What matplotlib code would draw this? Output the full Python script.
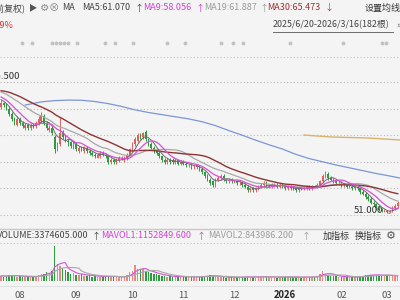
import numpy as np
import pandas as pd
import matplotlib
matplotlib.use('Agg')
import matplotlib.pyplot as plt
from matplotlib.lines import Line2D

plt.rcParams['font.family'] = ['Noto Sans CJK SC', 'DejaVu Sans']

# bars before the visible window (only feed the moving averages)
pre_close = [117, 118, 119, 118, 120, 121, 122, 121, 123, 124,
             123, 125, 124, 123, 124, 122, 123, 121, 122, 120,
             121, 119, 120, 118, 119, 117, 116, 117, 115, 114]
pre_vol = [120, 110, 130, 100, 115, 125, 140, 110, 105, 120,
           100, 130, 115, 110, 120, 105, 100, 110, 95, 100,
           105, 110, 95, 100, 90, 105, 100, 110, 95, 100]

# visible bars
open_ = [111, 113, 112, 110, 107, 104, 101, 104, 102, 99,
         101, 99, 101, 100, 102, 103, 106, 102, 98, 99,
         94, 87, 90, 97, 94, 92, 91, 88, 90, 86,
         88, 86, 88, 86, 85, 84, 82, 83, 85, 84,
         83, 80, 81, 80, 81, 82, 81, 82, 84, 87,
         90, 92, 95, 94, 97, 93, 90, 88, 86, 85,
         83, 81, 80, 81, 81, 80, 81, 79, 80, 79,
         78, 78, 77, 77, 78, 76, 74, 72, 70, 69,
         67, 70, 71, 72, 70, 69, 70, 69, 69, 68,
         68, 67, 66, 64, 65, 64, 65, 66, 67, 68,
         66, 66, 67, 67, 66, 67, 66, 65, 66, 65.5,
         65, 64, 65.5, 65, 65, 66, 65, 66.5, 66, 67,
         69, 72, 73, 71, 70, 69, 68, 68, 67, 67,
         66, 66, 65, 66, 65, 63, 62, 60, 59, 57,
         56, 54, 53, 52, 52.5, 51.5, 52, 54, 55]
high = [115, 114, 113, 111, 108, 105, 106, 105, 103, 102,
        102, 102, 102, 103, 106, 108, 107, 103, 101, 100,
        95, 91, 105, 98, 95, 93, 92, 92, 91, 89,
        89, 89, 89, 87, 86, 85, 85, 86, 86, 85,
        84, 82, 82, 82, 83, 83, 83, 85, 88, 91,
        94, 96, 96, 97, 98, 93, 91, 89, 87, 86,
        83, 82, 82, 82, 82, 82, 81, 81, 81, 80,
        79, 79, 78, 79, 78, 77, 75, 73, 71, 70,
        71, 72, 73, 73, 71, 71, 71, 70, 70, 69,
        69, 68, 67, 66, 66, 66, 67, 68, 69, 69,
        67, 68, 68, 68, 68, 68, 67, 67, 67, 66,
        66, 66, 66, 66, 67, 67, 67, 67, 68, 70,
        73, 75, 74, 72, 71, 70, 69, 69, 68, 68,
        67, 67, 67, 67, 66, 64, 63, 61, 60, 58,
        57, 55, 54, 53.5, 53, 53, 55, 56, 58]
low = [110, 111, 109, 106, 103, 101, 100, 101, 99, 98,
       98, 98, 99, 99, 101, 102, 101, 98, 97, 95,
       85, 86, 89, 93, 91, 89, 88, 87, 86, 85,
       86, 85, 85, 84, 83, 82, 82, 82, 83, 82,
       79, 79, 79, 79, 80, 81, 80, 81, 83, 86,
       89, 91, 93, 93, 92, 89, 87, 85, 84, 82,
       80, 79, 79, 79, 79, 79, 78, 78, 78, 77,
       77, 76, 76, 76, 75, 73, 71, 69, 67, 66,
       66, 69, 70, 69, 68, 68, 68, 68, 67, 67,
       66, 65, 63, 63, 63, 63, 64, 65, 66, 65,
       65, 65, 66, 65, 65, 65, 64, 64, 64, 64,
       63, 63, 64, 64, 64, 64, 64, 65, 65, 66,
       68, 71, 70, 69, 68, 67, 67, 66, 66, 65,
       65, 64, 64, 64, 62, 61, 59, 58, 56, 55,
       53, 52, 51.5, 51.5, 51.2, 51.0, 51.5, 53, 54]
close = [113, 112, 110, 107, 104, 102, 104, 102, 100, 101,
         99, 101, 100, 102, 104, 106, 102, 99, 99, 96,
         87, 90, 96, 94, 92, 91, 89, 90, 87, 88,
         87, 88, 86, 85, 84, 83, 84, 85, 84, 83,
         80, 81, 80, 81, 82, 82, 82, 84, 87, 90,
         93, 95, 94, 96, 93, 90, 88, 86, 85, 83,
         81, 80, 81, 80, 80, 81, 79, 80, 79, 78,
         78, 77, 77, 78, 76, 74, 72, 70, 68, 67,
         70, 71, 72, 70, 69, 70, 69, 69, 68, 68,
         67, 66, 64, 65, 64, 65, 66, 67, 68, 66,
         66, 67, 67, 66, 67, 66, 65, 66, 65, 65,
         64, 65, 65, 65, 66, 65, 66, 66, 67, 69,
         72, 73, 71, 70, 69, 68, 68, 67, 67, 66,
         66, 65, 66, 65, 63, 62, 60, 59, 57, 56,
         54, 53, 52, 52.5, 51.5, 52, 54, 55, 57]
volume = [110, 90, 100, 120, 130, 100, 90, 95, 80, 85,
          90, 85, 80, 95, 120, 150, 140, 180, 170, 200,
          700, 350, 300, 260, 220, 180, 150, 160, 130, 120,
          140, 110, 100, 120, 90, 100, 85, 90, 80, 95,
          110, 90, 80, 85, 80, 75, 90, 120, 180, 200,
          320, 250, 220, 240, 210, 180, 160, 140, 150, 120,
          110, 100, 90, 95, 85, 90, 80, 85, 90, 80,
          80, 85, 75, 80, 90, 100, 95, 110, 120, 100,
          90, 85, 80, 75, 70, 80, 75, 70, 80, 75,
          80, 85, 90, 80, 75, 70, 85, 90, 95, 80,
          75, 80, 85, 70, 75, 80, 90, 85, 80, 75,
          80, 75, 70, 80, 85, 75, 80, 90, 110, 140,
          200, 150, 130, 110, 100, 95, 90, 85, 80, 85,
          80, 75, 80, 85, 100, 110, 120, 130, 125, 115,
          120, 110, 130, 100, 120, 110, 100, 95, 100]

# long moving averages
blue_idx = [39, 45, 50, 55, 60, 65, 70, 75, 80, 85, 90, 95, 100, 105, 110,
            115, 120, 125, 130, 135, 140, 145, 150, 155, 160, 165, 170, 175, 179]
blue_val = [112.0, 113.8, 114.5, 114.8, 114.7, 114.0, 112.8, 111.2, 109.3, 107.8,
            106.6, 105.4, 104.2, 102.6, 100.4, 97.6, 95.0, 92.2, 89.6, 87.2,
            84.2, 81.8, 80.0, 78.2, 76.6, 75.0, 73.4, 72.0, 70.8]
gold_idx = [143, 153, 167, 179]
gold_val = [95.1, 94.0, 93.4, 92.3]

month_pos = [37, 58, 79, 98, 117, 136, 157, 174]
month_labels = ['08', '09', '10', '11', '12', '2026', '02', '03']

W, H = 400, 300
BG = '#f4f4f4'
UP = '#e06060'
DOWN = '#2f9a3f'

first = len(pre_close)
bars = np.arange(first, first + len(close))
o = np.array(open_, float)
c = np.array(close, float)
up = c >= o

all_close = pd.Series(pre_close + close, dtype=float)
ma = {n: all_close.rolling(n).mean().values[first:] for n in (5, 9, 19, 30)}
all_vol = pd.Series(pre_vol + volume, dtype=float)
mavol1 = all_vol.rolling(5).mean().values[first:]
mavol2 = all_vol.rolling(10).mean().values[first:]

fig = plt.figure(figsize=(4, 3), dpi=100, facecolor=BG)


def fy(y):
    return 1 - y / H


def ftext(x, y, s, **kw):
    kw.setdefault('fontsize', 6.5)
    kw.setdefault('va', 'center')
    fig.text(x / W, fy(y), s, **kw)


def hline(y, x0=0, x1=W, **kw):
    fig.add_artist(Line2D([x0 / W, x1 / W], [fy(y), fy(y)], **kw))


xlim = (29.6, 29.6 + W / 2.68)

# main price panel: y pixels 57..229
ax = fig.add_axes([0, fy(229), 1, (229 - 57) / H])
ax.set_facecolor(BG)
ax.set_xlim(*xlim)
p_top = 125 + (82 - 57) * 0.5639
p_bot = 125 - (229 - 82) * 0.5639
ax.set_ylim(p_bot, p_top)
ax.axis('off')
for p in [50, 65, 80, 95, 110, 125]:
    ax.axhline(p, color='#bcbcbc', lw=0.8, ls=(0, (1, 2)), zorder=0)

cols = np.where(up, UP, DOWN)
ax.vlines(bars, low, high, colors=cols, lw=0.7, zorder=2)
body = np.where(np.abs(c - o) < 0.3, 0.3, c - o)
ax.bar(bars, body, bottom=o, width=0.62, color=cols, lw=0, zorder=3)

ax.plot(blue_idx, blue_val, color='#7b96d6', lw=0.9, zorder=4)
ax.plot(gold_idx, gold_val, color='#d9b36a', lw=1.0, zorder=4)
ax.plot(bars, ma[19], color='#a8a8a8', lw=0.9, zorder=4)
ax.plot(bars, ma[30], color='#8e3434', lw=1.0, zorder=4)
ax.plot(bars, ma[5], color='#6a6a6a', lw=0.7, zorder=5)
ax.plot(bars, ma[9], color='#d84fd8', lw=0.9, zorder=5)

# low marker
lo_i = int(np.argmin(low))
ax.annotate('51.000', xy=(bars[lo_i], low[lo_i]), xytext=(bars[lo_i] - 2.5, low[lo_i] + 1.3),
            fontsize=6.8, color='#333333', ha='right', va='center',
            arrowprops=dict(arrowstyle='-', color='#555555', lw=0.6))

# volume panel: y pixels 242..281
axv = fig.add_axes([0, fy(281), 1, (281 - 242) / H])
axv.set_facecolor(BG)
axv.set_xlim(*xlim)
axv.set_ylim(0, 780)
axv.axis('off')
vcols = np.where(up, '#e88a84', DOWN)
axv.bar(bars, volume, width=0.55, color=vcols, lw=0)
axv.plot(bars, mavol1, color='#d84fd8', lw=0.8)
axv.plot(bars, mavol2, color='#a8a8a8', lw=0.8)

# separators
hline(57, color='#c4c4c4', lw=0.8, ls=(0, (1, 2)))
hline(229, color='#c8c8c8', lw=1.0)
hline(243, color='#c4c4c4', lw=0.8, ls=(0, (1, 2)))
hline(286, color='#dddddd', lw=0.6)

# header row
ftext(25, 8, '(前复权)', ha='right', color='#444444')
ftext(29, 8, '▶', color='#555555', fontsize=6)
ftext(40, 8, '⚙', color='#888888', fontsize=7.5)
ftext(49, 8, '⊗', color='#888888', fontsize=7.5)
ftext(62, 8, 'MA', color='#444444')
ftext(82, 8, 'MA5:61.070', color='#444444')
ftext(135, 8, '↑', color='#444444')
ftext(143, 8, 'MA9:58.056', color='#d63fd6')
ftext(195.5, 8, '↑', color='#d63fd6')
ftext(204, 8, 'MA19:61.887', color='#9c9c9c')
ftext(259.5, 8, '↑', color='#9c9c9c')
ftext(267, 8, 'MA30:65.473', color='#a03232')
ftext(325, 8, '↓', color='#d03030')
ftext(365, 8, '设置均线', color='#333333')

ftext(14, 25, '+1.29%', ha='right', color='#e03030')
ftext(273, 25, '2025/6/20-2026/3/16(182根)', color='#444444', fontsize=6.4)
hline(31.5, 273, 393, color='#555555', lw=0.6)
ftext(396, 25, '»', color='#666666')

# event markers
for xm in [22, 32, 52, 56, 60, 64, 68, 77, 105, 115, 133, 167, 185,
           221, 233, 243, 290, 343, 382, 386]:
    fig.add_artist(Line2D([xm / W], [fy(43)], marker='o', ms=1.8,
                          color='#c2c2c2', lw=0))

# high marker (cut at the left edge)
ftext(19.5, 77, '125.500', ha='right', color='#333333', fontsize=6.8)

# volume header
ftext(89, 236, 'VOLUME:3374605.000', ha='right', color='#444444')
ftext(92, 236, '↑', color='#444444')
ftext(101, 236, 'MAVOL1:1152849.600', color='#d63fd6')
ftext(197, 236, '↑', color='#d63fd6')
ftext(208, 236, 'MAVOL2:843986.200', color='#9c9c9c')
ftext(302, 236, '↑', color='#9c9c9c')
ftext(323, 236, '加指标', color='#333333')
ftext(355, 236, '换指标', color='#333333')
ftext(386, 236, '⚙', color='#555555', fontsize=8)

# month labels
for pos, lab in zip(month_pos, month_labels):
    xp = (pos - xlim[0]) * 2.68
    if lab == '2026':
        ftext(xp, 295, lab, ha='center', color='#222222', fontsize=6.8, fontweight='bold')
    else:
        ftext(xp, 295, lab, ha='center', color='#555555', fontsize=6.8)

fig.savefig('out.png', dpi=100, facecolor=BG)
